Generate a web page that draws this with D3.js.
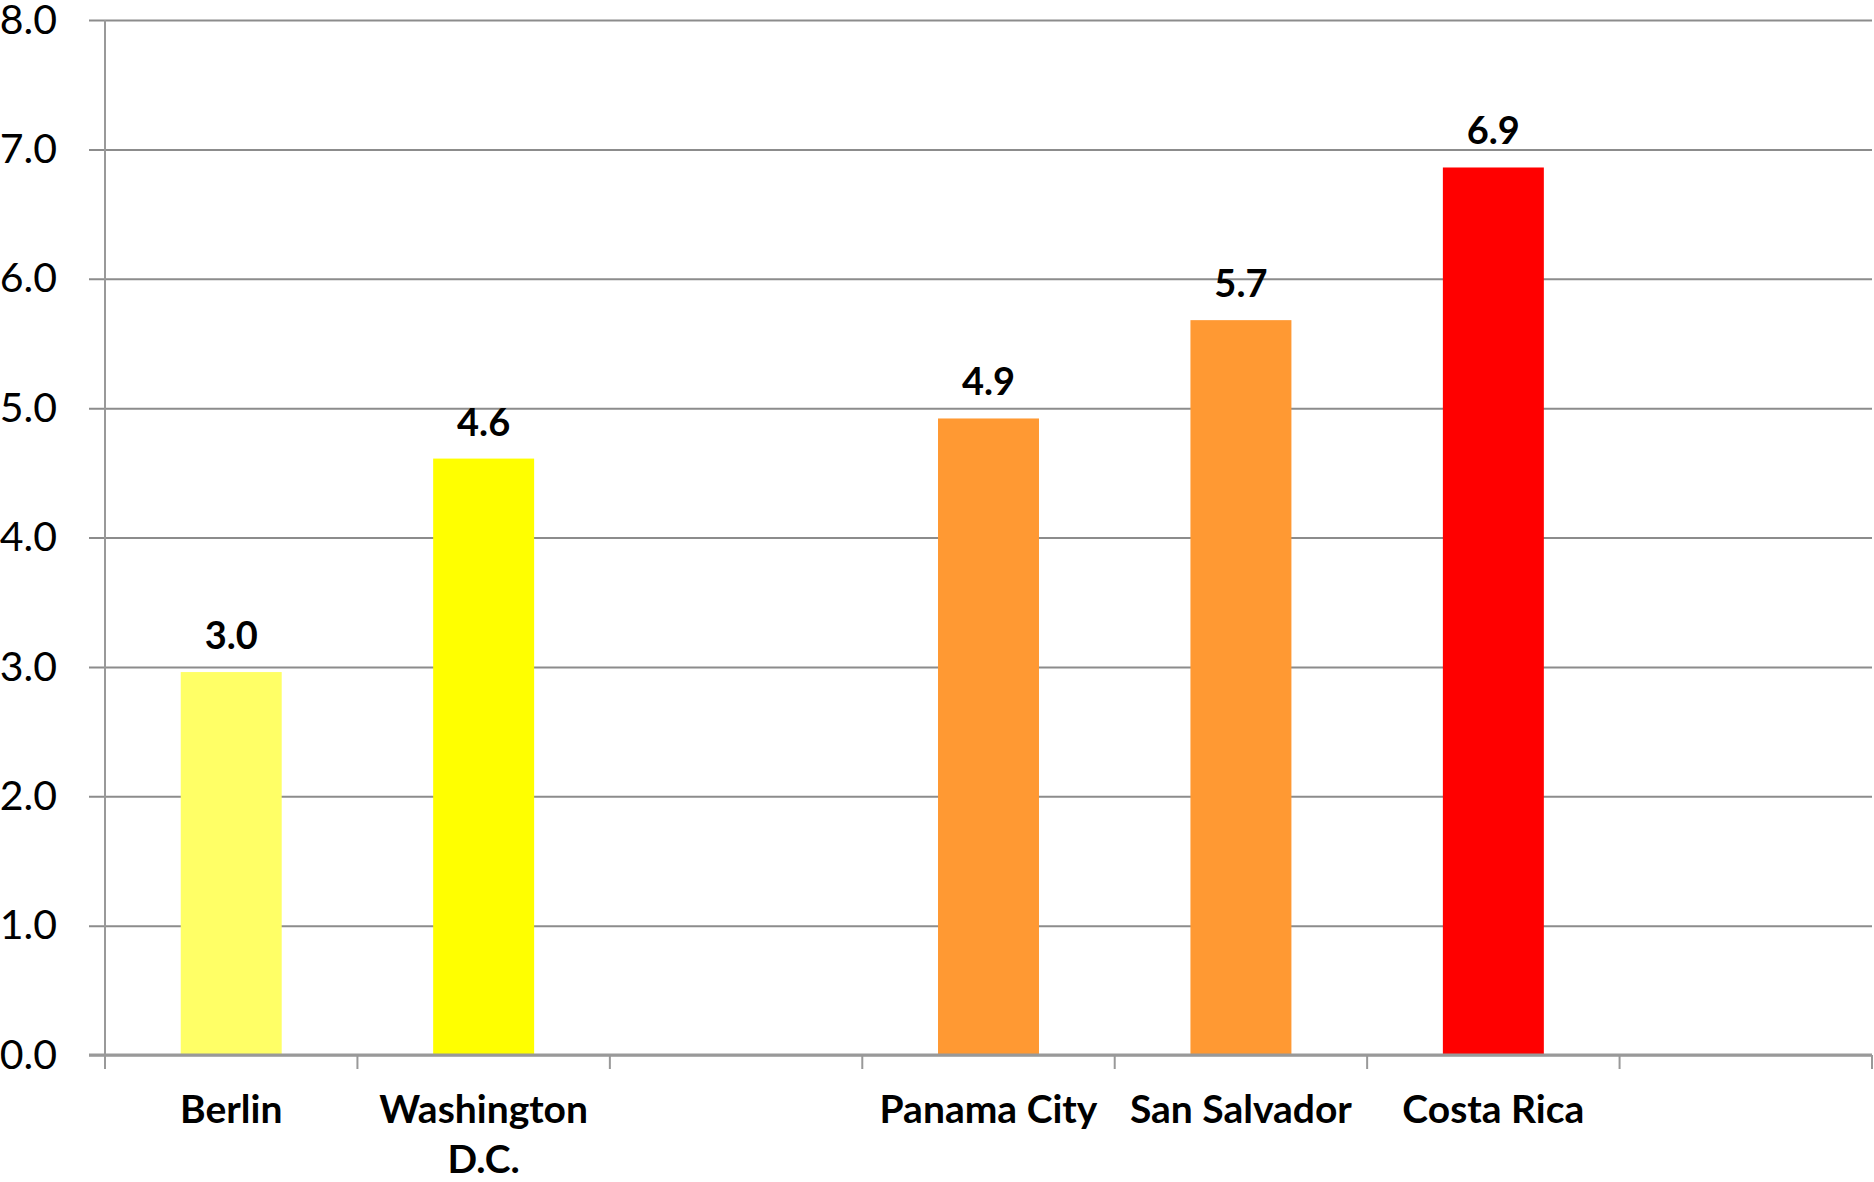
<!DOCTYPE html>
<html>
<head>
<meta charset="utf-8">
<script src="https://cdn.jsdelivr.net/npm/d3@7"></script>
<style>
  body { margin: 0; background: #fff; }
  text { font-family: Lato, "Open Sans", sans-serif; }
</style>
</head>
<body>
<script>
// chart data, one entry per slot on the x axis (blank slots have no bar)
var categories = ['Berlin', 'Washington D.C.', '', 'Panama City', 'San Salvador', 'Costa Rica', '']
var values = [2.96, 4.61, null, 4.92, 5.68, 6.86, null]
var barColors = ['#ffff66', '#ffff00', null, '#ff9933', '#ff9933', '#ff0000', null]
var yTicks = [0, 1, 2, 3, 4, 5, 6, 7, 8]

var settings = {
  width: 1874,
  height: 1182,
  left: 105,
  right: 1872,
  top: 20,
  bottom: 1055
}

var svg = d3.select('body').append('svg')
    .attr('width', settings.width).attr('height', settings.height)

var slots = categories.map(function(d, i) { return i })

var x = d3.scaleBand()
    .domain(slots)
    .range([settings.left, settings.right])
    .paddingInner(0.6)
    .paddingOuter(0.3)

var xEdge = d3.scaleLinear()
    .domain([0, categories.length])
    .range([settings.left, settings.right])

var y = d3.scaleLinear()
    .domain([0, 8])
    .range([settings.bottom, settings.top])

// gridlines + y tick labels
var yAxis = d3.axisLeft(y)
    .tickValues(yTicks)
    .tickSize(-(settings.right - settings.left + 16))
    .tickFormat(d3.format('.1f'))

var gy = svg.append('g')
    .attr('transform', 'translate(' + settings.right + ',0)')
    .call(yAxis)
gy.select('.domain').remove()
gy.selectAll('.tick line')
    .attr('x1', -(settings.right - settings.left + 16))
    .attr('x2', 0)
    .attr('stroke', '#8c8c8c')
    .attr('stroke-width', 2)
gy.selectAll('.tick text')
    .attr('x', -(settings.right - 57))
    .attr('fill', '#000')
    .style('font-size', '41px')

// y axis line
svg.append('line')
    .attr('x1', settings.left).attr('x2', settings.left)
    .attr('y1', settings.top).attr('y2', settings.bottom)
    .attr('stroke', '#999').attr('stroke-width', 2)

// bars
var bars = slots.filter(function(i) { return values[i] != null })

svg.selectAll('rect.bar')
    .data(bars)
    .enter()
    .append('rect')
    .attr('class', 'bar')
    .attr('x', function(i) { return x(i) })
    .attr('width', x.bandwidth())
    .attr('y', function(i) { return y(values[i]) })
    .attr('height', function(i) { return y(0) - y(values[i]) })
    .attr('fill', function(i) { return barColors[i] })

// value labels
svg.selectAll('text.value')
    .data(bars)
    .enter()
    .append('text')
    .attr('class', 'value')
    .attr('x', function(i) { return x(i) + x.bandwidth() / 2 })
    .attr('y', function(i) { return y(values[i]) - 23 })
    .attr('text-anchor', 'middle')
    .style('font-size', '38px')
    .style('font-weight', 'bold')
    .text(function(i) { return values[i].toFixed(1) })

// x axis line + ticks between slots
svg.append('line')
    .attr('x1', settings.left - 16).attr('x2', settings.right)
    .attr('y1', settings.bottom).attr('y2', settings.bottom)
    .attr('stroke', '#999').attr('stroke-width', 3)

svg.selectAll('line.xtick')
    .data(d3.range(categories.length + 1))
    .enter()
    .append('line')
    .attr('class', 'xtick')
    .attr('x1', function(d) { return xEdge(d) })
    .attr('x2', function(d) { return xEdge(d) })
    .attr('y1', settings.bottom)
    .attr('y2', settings.bottom + 14)
    .attr('stroke', '#999').attr('stroke-width', 2)

// category labels, wrapped to the slot width
var labels = svg.selectAll('text.cat')
    .data(slots)
    .enter()
    .append('text')
    .attr('class', 'cat')
    .attr('x', function(i) { return x(i) + x.bandwidth() / 2 })
    .attr('y', settings.bottom + 68)
    .attr('text-anchor', 'middle')
    .style('font-size', '39px')
    .style('font-weight', 'bold')

labels.each(function(i) {
  var el = d3.select(this)
  var words = categories[i].split(' ')
  var maxW = xEdge(1) - xEdge(0) - 4
  var line = []
  var tspan = el.append('tspan').attr('x', el.attr('x')).attr('dy', 0)
  words.forEach(function(w) {
    line.push(w)
    tspan.text(line.join(' '))
    if (line.length > 1 && tspan.node().getComputedTextLength() > maxW) {
      line.pop()
      tspan.text(line.join(' '))
      line = [w]
      tspan = el.append('tspan').attr('x', el.attr('x')).attr('dy', 50).text(w)
    }
  })
})
</script>
</body>
</html>
